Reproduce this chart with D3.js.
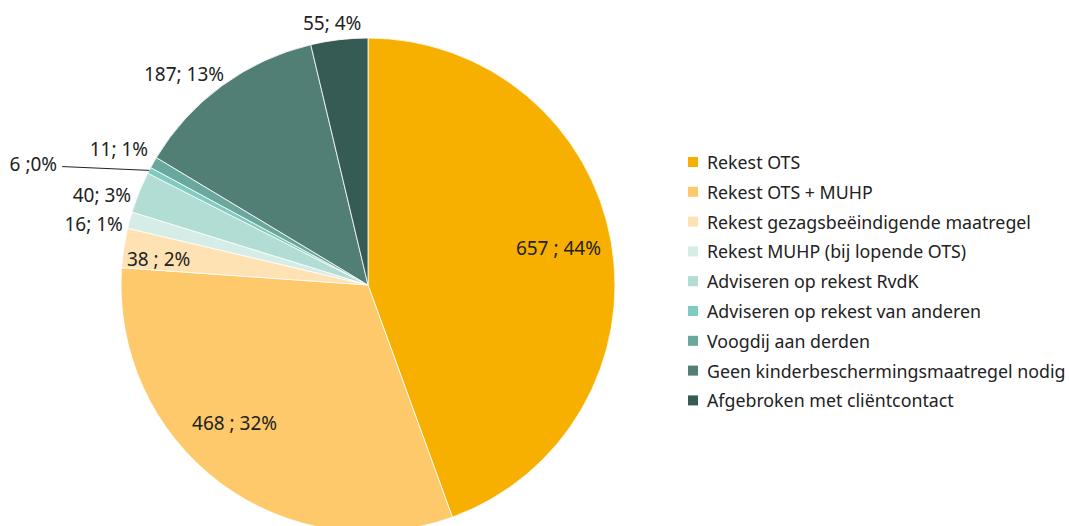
<!DOCTYPE html>
<html><head><meta charset="utf-8">
<script src="https://cdn.jsdelivr.net/npm/d3@7"></script>
<style>
html,body{margin:0;padding:0;background:#fff;}
svg{display:block;font-family:"Noto Sans","Open Sans",sans-serif;}
</style></head>
<body>
<svg id="chart" width="1069" height="526"></svg>
<script>
const categories = [
  "Rekest OTS",
  "Rekest OTS + MUHP",
  "Rekest gezagsbeëindigende maatregel",
  "Rekest MUHP (bij lopende OTS)",
  "Adviseren op rekest RvdK",
  "Adviseren op rekest van anderen",
  "Voogdij aan derden",
  "Geen kinderbeschermingsmaatregel nodig",
  "Afgebroken met cliëntcontact"
];
const values = [657, 468, 38, 16, 40, 6, 11, 187, 55];
const percentLabels = ["44%", "32%", "2%", "1%", "3%", "0%", "1%", "13%", "4%"];
const separators = [" ; ", " ; ", " ; ", "; ", "; ", " ;", "; ", "; ", "; "];
const colors = ["#f8b000", "#fdc96a", "#fee2b4", "#d5ece7", "#b2ddd4", "#80cbc0", "#6aa89d", "#517f76", "#365b55"];

// label placement: [angle shift in degrees, radius in px], leader flag
const labelShift = [-1, 7, -1.6, -2.7, -3.3, -7.7, -1, -4.9, -1.1];
const labelRadius = [194, 192, 211, 281, 281, 356, 284, 280, 264];
const leader = [false, false, false, false, false, true, false, false, false];

const svg = d3.select("#chart");
const cx = 368, cy = 285, R = 247;
const g = svg.append("g").attr("transform", `translate(${cx},${cy})`);

const pie = d3.pie().sort(null).value(d => d)(values);
const arc = d3.arc().innerRadius(0).outerRadius(R);

g.selectAll("path.slice").data(pie).enter().append("path")
  .attr("class", "slice")
  .attr("d", arc)
  .attr("fill", (d, i) => colors[i])
  .attr("stroke", "#ffffff")
  .attr("stroke-width", 0.8);

const polar = (a, r) => [r * Math.sin(a), -r * Math.cos(a)];

pie.forEach((d, i) => {
  const mid = (d.startAngle + d.endAngle) / 2;
  const a = mid + labelShift[i] * Math.PI / 180;
  const [x, y] = polar(a, labelRadius[i]);
  const t = g.append("text")
    .attr("x", x).attr("y", y)
    .attr("text-anchor", "middle")
    .attr("dominant-baseline", "central")
    .attr("font-size", 19)
    .attr("fill", "#222")
    .text(values[i] + separators[i] + percentLabels[i]);
  if (leader[i]) {
    const w = t.node().getComputedTextLength();
    const [ex, ey] = polar(mid, R);
    g.append("line")
      .attr("x1", x + w / 2 + 5).attr("y1", y + 3)
      .attr("x2", ex).attr("y2", ey)
      .attr("stroke", "#222").attr("stroke-width", 1);
  }
});

// legend
const legendX = 688, legendY = 162, rowH = 29.8;
const lg = svg.append("g");
categories.forEach((c, i) => {
  const y = legendY + i * rowH;
  lg.append("rect").attr("x", legendX).attr("y", y - 5).attr("width", 10).attr("height", 10).attr("fill", colors[i]);
  lg.append("text").attr("x", legendX + 19).attr("y", y)
    .attr("dominant-baseline", "central")
    .attr("font-size", 17.8).attr("fill", "#222").text(c);
});
</script>
</body></html>
